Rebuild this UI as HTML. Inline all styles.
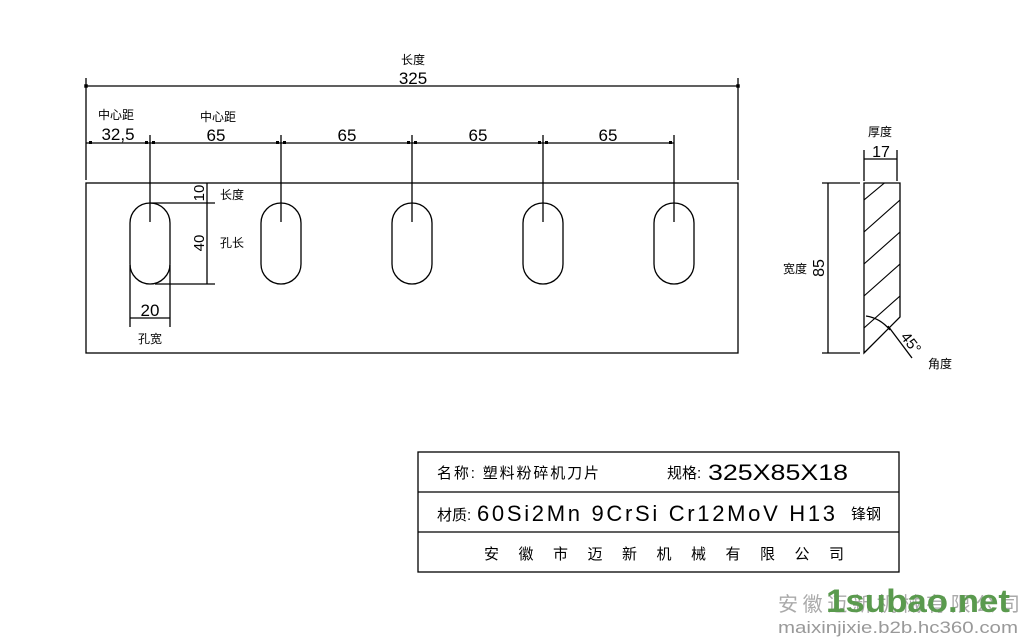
<!DOCTYPE html>
<html><head><meta charset="utf-8"><style>
html,body{margin:0;padding:0;background:#fff;width:1024px;height:637px;overflow:hidden}
svg text{font-family:"Liberation Sans","Noto Sans CJK SC",sans-serif;fill:#000}
</style></head><body>
<svg width="1024" height="637" viewBox="0 0 1024 637" xmlns="http://www.w3.org/2000/svg">
<defs>
<marker id="a" viewBox="0 0 6 6" refX="3" refY="3" markerWidth="4" markerHeight="4"><rect x="1" y="1" width="4" height="4" fill="#000"/></marker>
<clipPath id="c"><polygon points="864,183 900,183 900,317 864,353"/></clipPath>
</defs>
<g stroke="#000" stroke-width="1.3" fill="none">
<rect x="86" y="183" width="652" height="170"/>
<line x1="86" y1="78" x2="86" y2="180"/>
<line x1="738" y1="78" x2="738" y2="180"/>
<line x1="86" y1="86" x2="738" y2="86" marker-start="url(#a)" marker-end="url(#a)"/>
<line x1="86" y1="143" x2="674" y2="143"/>
<g fill="#000" stroke="none">
<rect x="89" y="141" width="3" height="3"/><rect x="145" y="141" width="3" height="3"/><rect x="152" y="141" width="3" height="3"/>
<rect x="276" y="141" width="3" height="3"/><rect x="283" y="141" width="3" height="3"/>
<rect x="407" y="141" width="3" height="3"/><rect x="414" y="141" width="3" height="3"/>
<rect x="538" y="141" width="3" height="3"/><rect x="545" y="141" width="3" height="3"/>
<rect x="669" y="141" width="3" height="3"/>
</g>
<g>
<rect x="130" y="203" width="40" height="81" rx="20" ry="20"/>
<rect x="261" y="203" width="40" height="81" rx="20" ry="20"/>
<rect x="392" y="203" width="40" height="81" rx="20" ry="20"/>
<rect x="523" y="203" width="40" height="81" rx="20" ry="20"/>
<rect x="654" y="203" width="40" height="81" rx="20" ry="20"/>
</g>
<line x1="150" y1="135" x2="150" y2="222"/>
<line x1="281" y1="135" x2="281" y2="222"/>
<line x1="412" y1="135" x2="412" y2="222"/>
<line x1="543" y1="135" x2="543" y2="222"/>
<line x1="674" y1="135" x2="674" y2="222"/>
<line x1="150" y1="203" x2="215" y2="203"/>
<line x1="155" y1="284" x2="215" y2="284"/>
<line x1="207" y1="183" x2="207" y2="284"/>
<line x1="130" y1="265" x2="130" y2="327"/>
<line x1="170" y1="265" x2="170" y2="327"/>
<line x1="130" y1="318" x2="170" y2="318"/>
<polygon points="864,183 900,183 900,317 864,353"/>
<g clip-path="url(#c)" stroke-width="1.1">
<line x1="864" y1="200" x2="900" y2="170"/>
<line x1="864" y1="232" x2="900" y2="200"/>
<line x1="864" y1="264" x2="900" y2="232"/>
<line x1="864" y1="296" x2="900" y2="264"/>
<line x1="864" y1="328" x2="900" y2="296"/>
<line x1="864" y1="360" x2="900" y2="328"/>
</g>
<line x1="822" y1="183" x2="860" y2="183"/>
<line x1="822" y1="353" x2="860" y2="353"/>
<line x1="828" y1="183" x2="828" y2="353"/>
<line x1="864" y1="150" x2="864" y2="181"/>
<line x1="897" y1="150" x2="897" y2="181"/>
<line x1="864" y1="159" x2="897" y2="159"/>
<path d="M866,316 Q880,318 890,330"/>
<line x1="888" y1="326" x2="912" y2="358"/>
<rect x="418" y="452" width="481" height="120"/>
<line x1="418" y1="492" x2="899" y2="492"/>
<line x1="418" y1="532" x2="899" y2="532"/>
</g>
<text x="413" y="64" font-size="12" text-anchor="middle">长度</text>
<text x="413" y="84" font-size="17" text-anchor="middle">325</text>
<text x="116" y="119" font-size="12" text-anchor="middle">中心距</text>
<text x="118" y="140" font-size="17" text-anchor="middle">32,5</text>
<text x="218" y="121" font-size="12" text-anchor="middle">中心距</text>
<text x="216" y="141" font-size="17" text-anchor="middle">65</text>
<text x="347" y="141" font-size="17" text-anchor="middle">65</text>
<text x="478" y="141" font-size="17" text-anchor="middle">65</text>
<text x="608" y="141" font-size="17" text-anchor="middle">65</text>
<text x="220" y="199" font-size="12">长度</text>
<text x="220" y="247" font-size="12">孔长</text>
<text transform="translate(204,193) rotate(-90)" font-size="15" text-anchor="middle">10</text>
<text transform="translate(204,243) rotate(-90)" font-size="15" text-anchor="middle">40</text>
<text x="150" y="316" font-size="17" text-anchor="middle">20</text>
<text x="150" y="343" font-size="12" text-anchor="middle">孔宽</text>
<text x="880" y="136" font-size="12" text-anchor="middle">厚度</text>
<text x="881" y="157" font-size="16" text-anchor="middle">17</text>
<text x="795" y="273" font-size="12" text-anchor="middle">宽度</text>
<text transform="translate(824,268) rotate(-90)" font-size="16" text-anchor="middle">85</text>
<text transform="translate(900,337) rotate(52)" font-size="15">45°</text>
<text x="940" y="368" font-size="12" text-anchor="middle">角度</text>
<text x="437" y="478" font-size="15" textLength="162" lengthAdjust="spacing">名称: 塑料粉碎机刀片</text>
<text x="667" y="478" font-size="15">规格:</text>
<text x="708" y="480" font-size="22" textLength="140" lengthAdjust="spacingAndGlyphs">325X85X18</text>
<text x="437" y="520" font-size="15">材质:</text>
<text x="477" y="521" font-size="22" textLength="358" lengthAdjust="spacing">60Si2Mn 9CrSi Cr12MoV H13</text>
<text x="851" y="519" font-size="15">锋钢</text>
<text x="484" y="559" font-size="15" textLength="360" lengthAdjust="spacing">安徽市迈新机械有限公司</text>
<text x="778" y="611" font-size="20" style="fill:#aaa" textLength="242" lengthAdjust="spacing">安徽迈新机械有限公司</text>
<text x="826" y="612" font-size="32" font-weight="bold" style="fill:#5a9a4e" textLength="184" lengthAdjust="spacingAndGlyphs">1subao.net</text>
<text x="778" y="633" font-size="17" style="fill:#999" textLength="240" lengthAdjust="spacingAndGlyphs">maixinjixie.b2b.hc360.com</text>
</svg>
</body></html>
